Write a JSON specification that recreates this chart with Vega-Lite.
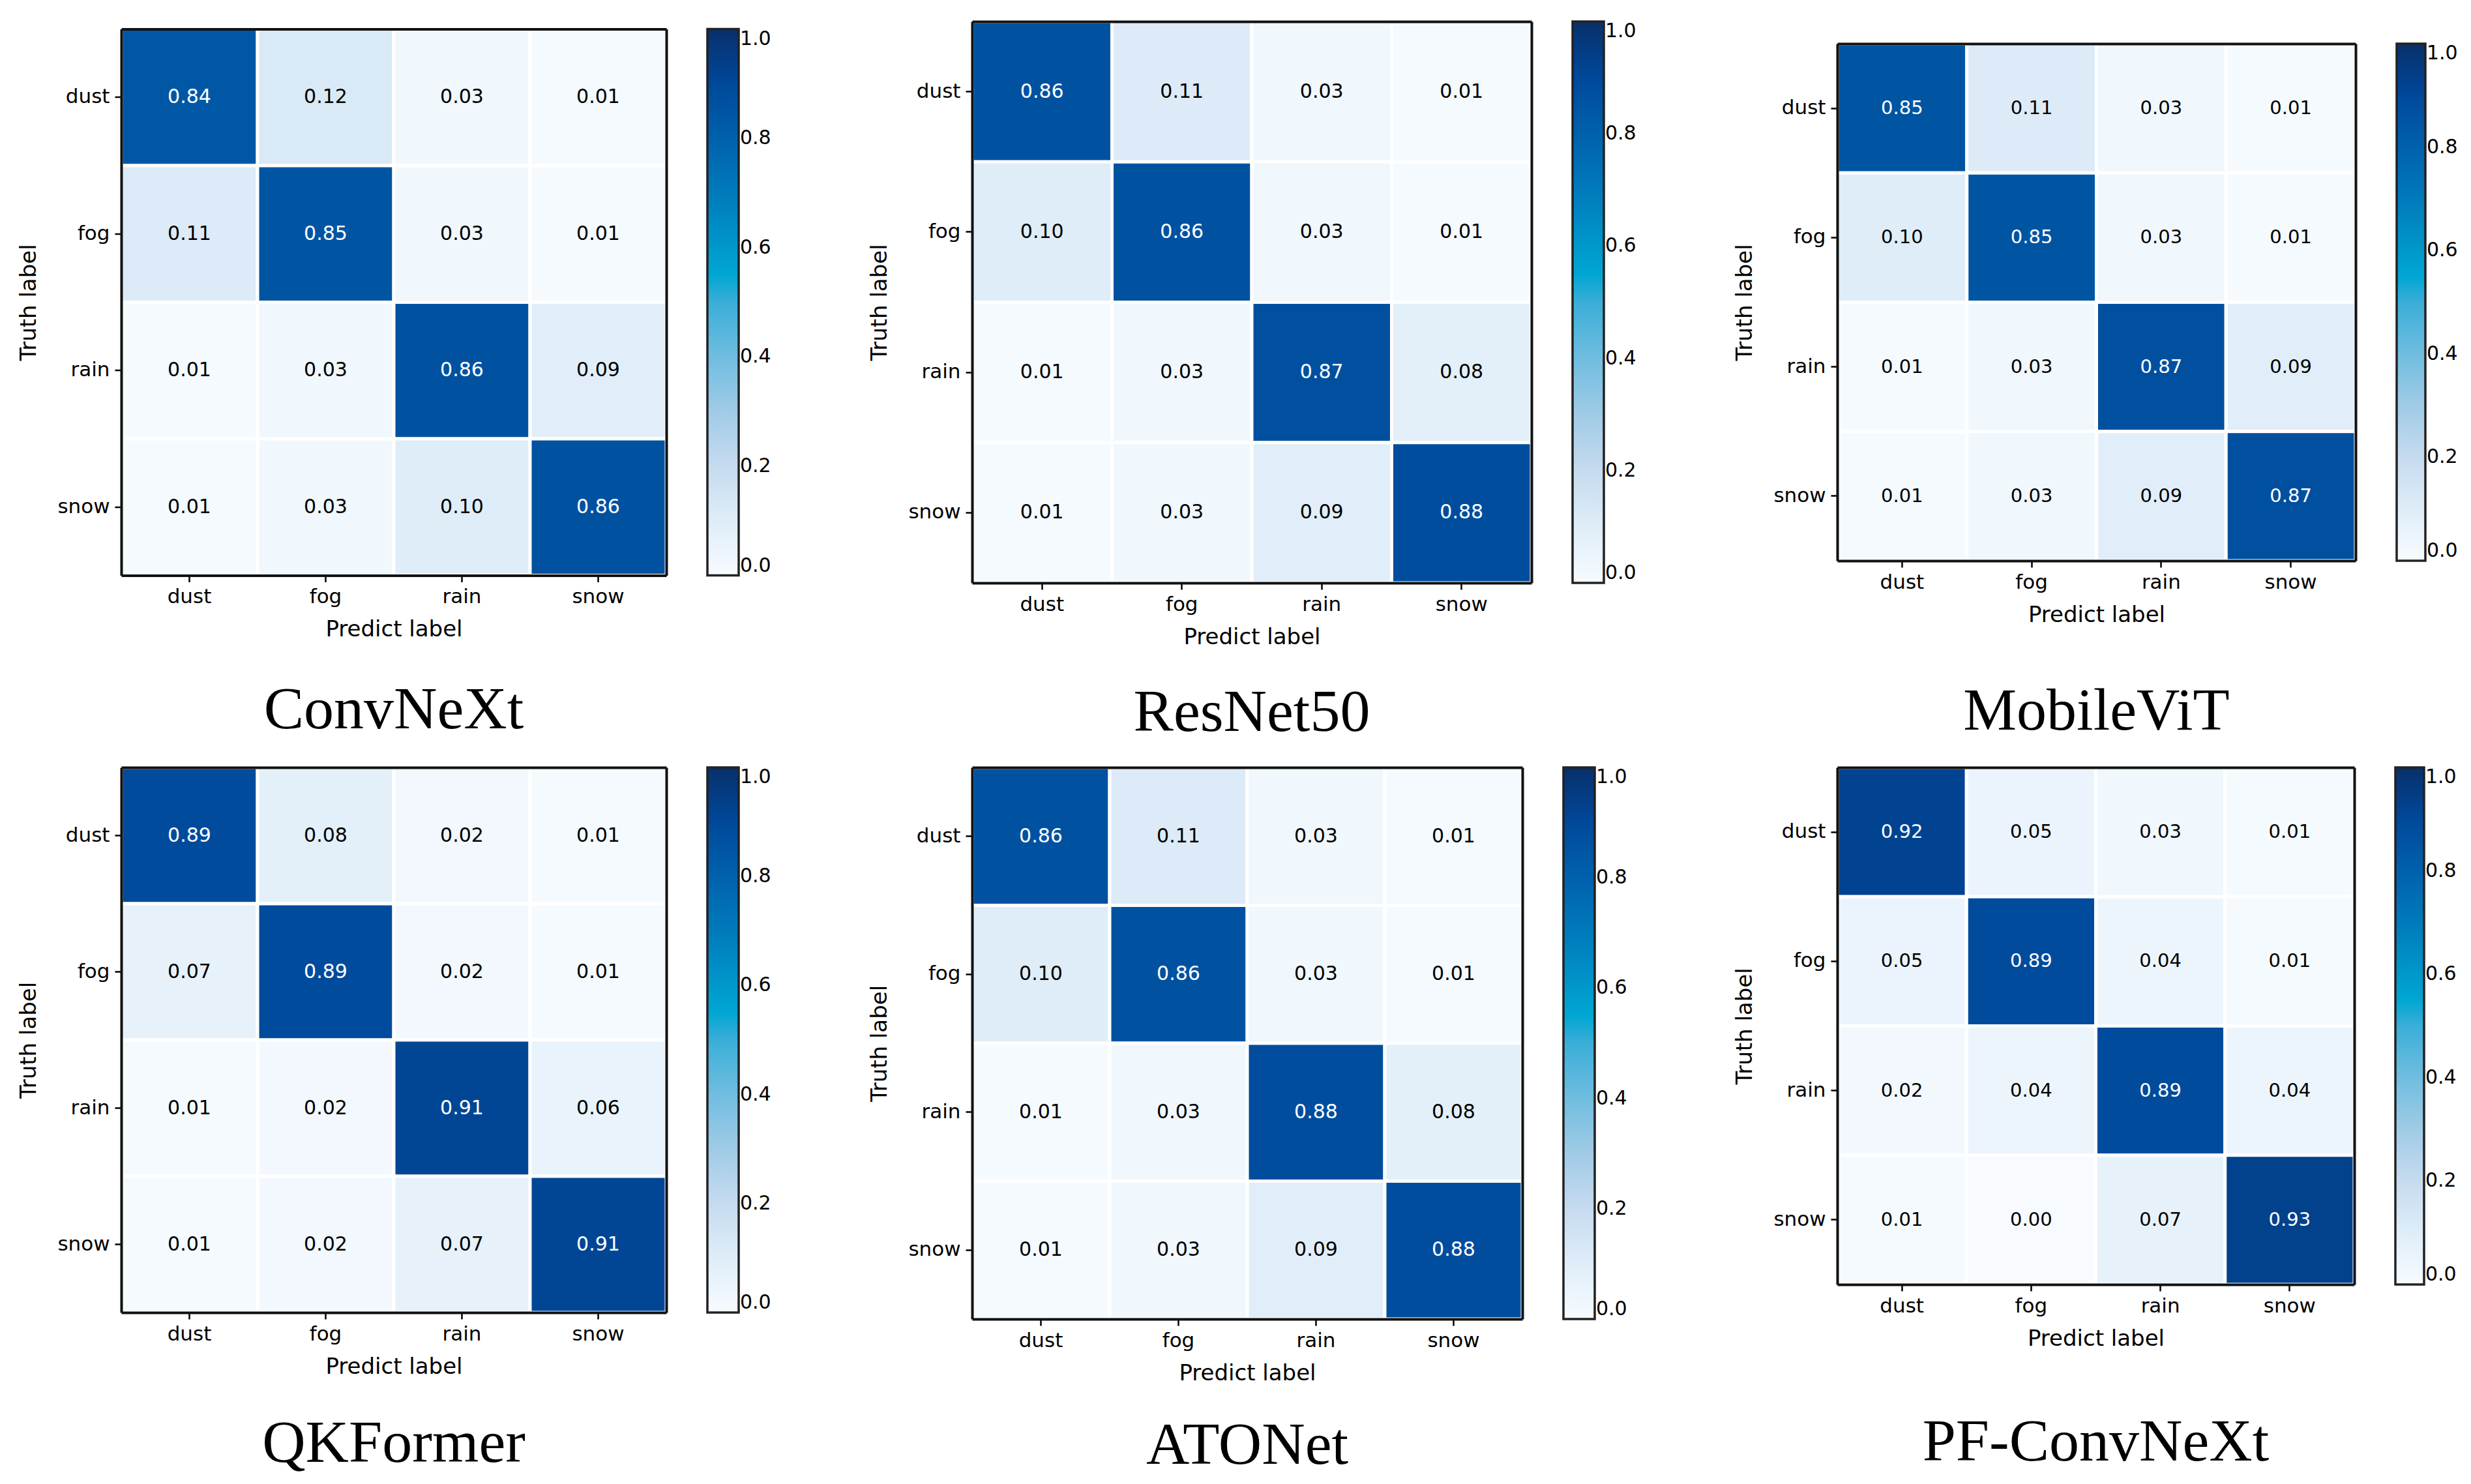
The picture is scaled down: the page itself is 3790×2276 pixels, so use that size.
{
  "$schema": "https://vega.github.io/schema/vega-lite/v6.json",
  "background": "white",
  "padding": {"left": 27, "top": 30, "right": 10, "bottom": 10},
  "data": {"values": [
    {"model":"ConvNeXt","truth":"dust","predict":"dust","value":0.84},
    {"model":"ConvNeXt","truth":"dust","predict":"fog","value":0.12},
    {"model":"ConvNeXt","truth":"dust","predict":"rain","value":0.03},
    {"model":"ConvNeXt","truth":"dust","predict":"snow","value":0.01},
    {"model":"ConvNeXt","truth":"fog","predict":"dust","value":0.11},
    {"model":"ConvNeXt","truth":"fog","predict":"fog","value":0.85},
    {"model":"ConvNeXt","truth":"fog","predict":"rain","value":0.03},
    {"model":"ConvNeXt","truth":"fog","predict":"snow","value":0.01},
    {"model":"ConvNeXt","truth":"rain","predict":"dust","value":0.01},
    {"model":"ConvNeXt","truth":"rain","predict":"fog","value":0.03},
    {"model":"ConvNeXt","truth":"rain","predict":"rain","value":0.86},
    {"model":"ConvNeXt","truth":"rain","predict":"snow","value":0.09},
    {"model":"ConvNeXt","truth":"snow","predict":"dust","value":0.01},
    {"model":"ConvNeXt","truth":"snow","predict":"fog","value":0.03},
    {"model":"ConvNeXt","truth":"snow","predict":"rain","value":0.10},
    {"model":"ConvNeXt","truth":"snow","predict":"snow","value":0.86},
    {"model":"ResNet50","truth":"dust","predict":"dust","value":0.86},
    {"model":"ResNet50","truth":"dust","predict":"fog","value":0.11},
    {"model":"ResNet50","truth":"dust","predict":"rain","value":0.03},
    {"model":"ResNet50","truth":"dust","predict":"snow","value":0.01},
    {"model":"ResNet50","truth":"fog","predict":"dust","value":0.10},
    {"model":"ResNet50","truth":"fog","predict":"fog","value":0.86},
    {"model":"ResNet50","truth":"fog","predict":"rain","value":0.03},
    {"model":"ResNet50","truth":"fog","predict":"snow","value":0.01},
    {"model":"ResNet50","truth":"rain","predict":"dust","value":0.01},
    {"model":"ResNet50","truth":"rain","predict":"fog","value":0.03},
    {"model":"ResNet50","truth":"rain","predict":"rain","value":0.87},
    {"model":"ResNet50","truth":"rain","predict":"snow","value":0.08},
    {"model":"ResNet50","truth":"snow","predict":"dust","value":0.01},
    {"model":"ResNet50","truth":"snow","predict":"fog","value":0.03},
    {"model":"ResNet50","truth":"snow","predict":"rain","value":0.09},
    {"model":"ResNet50","truth":"snow","predict":"snow","value":0.88},
    {"model":"MobileViT","truth":"dust","predict":"dust","value":0.85},
    {"model":"MobileViT","truth":"dust","predict":"fog","value":0.11},
    {"model":"MobileViT","truth":"dust","predict":"rain","value":0.03},
    {"model":"MobileViT","truth":"dust","predict":"snow","value":0.01},
    {"model":"MobileViT","truth":"fog","predict":"dust","value":0.10},
    {"model":"MobileViT","truth":"fog","predict":"fog","value":0.85},
    {"model":"MobileViT","truth":"fog","predict":"rain","value":0.03},
    {"model":"MobileViT","truth":"fog","predict":"snow","value":0.01},
    {"model":"MobileViT","truth":"rain","predict":"dust","value":0.01},
    {"model":"MobileViT","truth":"rain","predict":"fog","value":0.03},
    {"model":"MobileViT","truth":"rain","predict":"rain","value":0.87},
    {"model":"MobileViT","truth":"rain","predict":"snow","value":0.09},
    {"model":"MobileViT","truth":"snow","predict":"dust","value":0.01},
    {"model":"MobileViT","truth":"snow","predict":"fog","value":0.03},
    {"model":"MobileViT","truth":"snow","predict":"rain","value":0.09},
    {"model":"MobileViT","truth":"snow","predict":"snow","value":0.87},
    {"model":"QKFormer","truth":"dust","predict":"dust","value":0.89},
    {"model":"QKFormer","truth":"dust","predict":"fog","value":0.08},
    {"model":"QKFormer","truth":"dust","predict":"rain","value":0.02},
    {"model":"QKFormer","truth":"dust","predict":"snow","value":0.01},
    {"model":"QKFormer","truth":"fog","predict":"dust","value":0.07},
    {"model":"QKFormer","truth":"fog","predict":"fog","value":0.89},
    {"model":"QKFormer","truth":"fog","predict":"rain","value":0.02},
    {"model":"QKFormer","truth":"fog","predict":"snow","value":0.01},
    {"model":"QKFormer","truth":"rain","predict":"dust","value":0.01},
    {"model":"QKFormer","truth":"rain","predict":"fog","value":0.02},
    {"model":"QKFormer","truth":"rain","predict":"rain","value":0.91},
    {"model":"QKFormer","truth":"rain","predict":"snow","value":0.06},
    {"model":"QKFormer","truth":"snow","predict":"dust","value":0.01},
    {"model":"QKFormer","truth":"snow","predict":"fog","value":0.02},
    {"model":"QKFormer","truth":"snow","predict":"rain","value":0.07},
    {"model":"QKFormer","truth":"snow","predict":"snow","value":0.91},
    {"model":"ATONet","truth":"dust","predict":"dust","value":0.86},
    {"model":"ATONet","truth":"dust","predict":"fog","value":0.11},
    {"model":"ATONet","truth":"dust","predict":"rain","value":0.03},
    {"model":"ATONet","truth":"dust","predict":"snow","value":0.01},
    {"model":"ATONet","truth":"fog","predict":"dust","value":0.10},
    {"model":"ATONet","truth":"fog","predict":"fog","value":0.86},
    {"model":"ATONet","truth":"fog","predict":"rain","value":0.03},
    {"model":"ATONet","truth":"fog","predict":"snow","value":0.01},
    {"model":"ATONet","truth":"rain","predict":"dust","value":0.01},
    {"model":"ATONet","truth":"rain","predict":"fog","value":0.03},
    {"model":"ATONet","truth":"rain","predict":"rain","value":0.88},
    {"model":"ATONet","truth":"rain","predict":"snow","value":0.08},
    {"model":"ATONet","truth":"snow","predict":"dust","value":0.01},
    {"model":"ATONet","truth":"snow","predict":"fog","value":0.03},
    {"model":"ATONet","truth":"snow","predict":"rain","value":0.09},
    {"model":"ATONet","truth":"snow","predict":"snow","value":0.88},
    {"model":"PF-ConvNeXt","truth":"dust","predict":"dust","value":0.92},
    {"model":"PF-ConvNeXt","truth":"dust","predict":"fog","value":0.05},
    {"model":"PF-ConvNeXt","truth":"dust","predict":"rain","value":0.03},
    {"model":"PF-ConvNeXt","truth":"dust","predict":"snow","value":0.01},
    {"model":"PF-ConvNeXt","truth":"fog","predict":"dust","value":0.05},
    {"model":"PF-ConvNeXt","truth":"fog","predict":"fog","value":0.89},
    {"model":"PF-ConvNeXt","truth":"fog","predict":"rain","value":0.04},
    {"model":"PF-ConvNeXt","truth":"fog","predict":"snow","value":0.01},
    {"model":"PF-ConvNeXt","truth":"rain","predict":"dust","value":0.02},
    {"model":"PF-ConvNeXt","truth":"rain","predict":"fog","value":0.04},
    {"model":"PF-ConvNeXt","truth":"rain","predict":"rain","value":0.89},
    {"model":"PF-ConvNeXt","truth":"rain","predict":"snow","value":0.04},
    {"model":"PF-ConvNeXt","truth":"snow","predict":"dust","value":0.01},
    {"model":"PF-ConvNeXt","truth":"snow","predict":"fog","value":0.00},
    {"model":"PF-ConvNeXt","truth":"snow","predict":"rain","value":0.07},
    {"model":"PF-ConvNeXt","truth":"snow","predict":"snow","value":0.93}
  ]},
  "columns": 3,
  "align": "each",
  "bounds": "flush",
  "center": true,
  "spacing": {"row": 283, "column": 469},
  "resolve": {"scale": {"color": "independent"}, "legend": {"color": "independent"}},
  "concat": [
    {
      "width": 836, "height": 838,
      "title": {"text": "ConvNeXt", "offset": 61},
      "transform": [{"filter": "datum.model === 'ConvNeXt'"}],
      "encoding": {
        "x": {"field": "predict", "type": "nominal", "sort": ["dust","fog","rain","snow"], "title": "Predict label", "axis": {"zindex": 1}},
        "y": {"field": "truth", "type": "nominal", "sort": ["dust","fog","rain","snow"], "title": "Truth label", "axis": {"zindex": 1}}
      },
      "resolve": {"axis": {"x": "independent", "y": "independent"}},
      "layer": [
        {"mark": {"type": "rect", "stroke": "white", "strokeWidth": 5},
         "encoding": {"color": {"field": "value", "type": "quantitative",
           "scale": {"domain": [0,0.1,0.2,0.3,0.4,0.5,0.55,0.6,0.7,0.8,0.9,1.0], "range": ["#f7fbff","#deedf8","#c6dbef","#a0cbe6","#70bde0","#3aaed8","#00a6d3","#0098cb","#007abb","#0061ac","#00489a","#08306b"], "interpolate": "rgb"},
           "legend": {"gradientLength": 838, "values": [0,0.2,0.4,0.6,0.8,1.0], "format": ".1f"}}}},
        {"mark": {"type": "text", "fontSize": 30},
         "encoding": {
           "x": {"field": "predict", "type": "nominal", "sort": ["dust","fog","rain","snow"], "axis": {"orient": "top", "labels": false, "ticks": false, "title": null, "zindex": 1}},
           "y": {"field": "truth", "type": "nominal", "sort": ["dust","fog","rain","snow"], "axis": {"orient": "right", "labels": false, "ticks": false, "title": null, "zindex": 1}},
           "text": {"field": "value", "type": "quantitative", "format": ".2f"},
           "color": {"condition": {"test": "datum.value > 0.5", "value": "white"}, "value": "black"}}}
      ]
    },
    {
      "width": 858, "height": 861,
      "title": {"text": "ResNet50", "offset": 54},
      "transform": [{"filter": "datum.model === 'ResNet50'"}],
      "encoding": {
        "x": {"field": "predict", "type": "nominal", "sort": ["dust","fog","rain","snow"], "title": "Predict label", "axis": {"zindex": 1}},
        "y": {"field": "truth", "type": "nominal", "sort": ["dust","fog","rain","snow"], "title": "Truth label", "axis": {"zindex": 1}}
      },
      "resolve": {"axis": {"x": "independent", "y": "independent"}},
      "layer": [
        {"mark": {"type": "rect", "stroke": "white", "strokeWidth": 5},
         "encoding": {"color": {"field": "value", "type": "quantitative",
           "scale": {"domain": [0,0.1,0.2,0.3,0.4,0.5,0.55,0.6,0.7,0.8,0.9,1.0], "range": ["#f7fbff","#deedf8","#c6dbef","#a0cbe6","#70bde0","#3aaed8","#00a6d3","#0098cb","#007abb","#0061ac","#00489a","#08306b"], "interpolate": "rgb"},
           "legend": {"gradientLength": 861, "values": [0,0.2,0.4,0.6,0.8,1.0], "format": ".1f"}}}},
        {"mark": {"type": "text", "fontSize": 30},
         "encoding": {
           "x": {"field": "predict", "type": "nominal", "sort": ["dust","fog","rain","snow"], "axis": {"orient": "top", "labels": false, "ticks": false, "title": null, "zindex": 1}},
           "y": {"field": "truth", "type": "nominal", "sort": ["dust","fog","rain","snow"], "axis": {"orient": "right", "labels": false, "ticks": false, "title": null, "zindex": 1}},
           "text": {"field": "value", "type": "quantitative", "format": ".2f"},
           "color": {"condition": {"test": "datum.value > 0.5", "value": "white"}, "value": "black"}}}
      ]
    },
    {
      "width": 795, "height": 793,
      "title": {"text": "MobileViT", "offset": 86},
      "transform": [{"filter": "datum.model === 'MobileViT'"}],
      "encoding": {
        "x": {"field": "predict", "type": "nominal", "sort": ["dust","fog","rain","snow"], "title": "Predict label", "axis": {"zindex": 1}},
        "y": {"field": "truth", "type": "nominal", "sort": ["dust","fog","rain","snow"], "title": "Truth label", "axis": {"zindex": 1}}
      },
      "resolve": {"axis": {"x": "independent", "y": "independent"}},
      "layer": [
        {"mark": {"type": "rect", "stroke": "white", "strokeWidth": 5},
         "encoding": {"color": {"field": "value", "type": "quantitative",
           "scale": {"domain": [0,0.1,0.2,0.3,0.4,0.5,0.55,0.6,0.7,0.8,0.9,1.0], "range": ["#f7fbff","#deedf8","#c6dbef","#a0cbe6","#70bde0","#3aaed8","#00a6d3","#0098cb","#007abb","#0061ac","#00489a","#08306b"], "interpolate": "rgb"},
           "legend": {"gradientLength": 793, "gradientThickness": 44, "values": [0,0.2,0.4,0.6,0.8,1.0], "format": ".1f"}}}},
        {"mark": {"type": "text", "fontSize": 29},
         "encoding": {
           "x": {"field": "predict", "type": "nominal", "sort": ["dust","fog","rain","snow"], "axis": {"orient": "top", "labels": false, "ticks": false, "title": null, "zindex": 1}},
           "y": {"field": "truth", "type": "nominal", "sort": ["dust","fog","rain","snow"], "axis": {"orient": "right", "labels": false, "ticks": false, "title": null, "zindex": 1}},
           "text": {"field": "value", "type": "quantitative", "format": ".2f"},
           "color": {"condition": {"test": "datum.value > 0.5", "value": "white"}, "value": "black"}}}
      ]
    },
    {
      "width": 836, "height": 836,
      "title": {"text": "QKFormer", "offset": 56},
      "transform": [{"filter": "datum.model === 'QKFormer'"}],
      "encoding": {
        "x": {"field": "predict", "type": "nominal", "sort": ["dust","fog","rain","snow"], "title": "Predict label", "axis": {"zindex": 1}},
        "y": {"field": "truth", "type": "nominal", "sort": ["dust","fog","rain","snow"], "title": "Truth label", "axis": {"zindex": 1}}
      },
      "resolve": {"axis": {"x": "independent", "y": "independent"}},
      "layer": [
        {"mark": {"type": "rect", "stroke": "white", "strokeWidth": 5},
         "encoding": {"color": {"field": "value", "type": "quantitative",
           "scale": {"domain": [0,0.1,0.2,0.3,0.4,0.5,0.55,0.6,0.7,0.8,0.9,1.0], "range": ["#f7fbff","#deedf8","#c6dbef","#a0cbe6","#70bde0","#3aaed8","#00a6d3","#0098cb","#007abb","#0061ac","#00489a","#08306b"], "interpolate": "rgb"},
           "legend": {"gradientLength": 836, "values": [0,0.2,0.4,0.6,0.8,1.0], "format": ".1f"}}}},
        {"mark": {"type": "text", "fontSize": 30},
         "encoding": {
           "x": {"field": "predict", "type": "nominal", "sort": ["dust","fog","rain","snow"], "axis": {"orient": "top", "labels": false, "ticks": false, "title": null, "zindex": 1}},
           "y": {"field": "truth", "type": "nominal", "sort": ["dust","fog","rain","snow"], "axis": {"orient": "right", "labels": false, "ticks": false, "title": null, "zindex": 1}},
           "text": {"field": "value", "type": "quantitative", "format": ".2f"},
           "color": {"condition": {"test": "datum.value > 0.5", "value": "white"}, "value": "black"}}}
      ]
    },
    {
      "width": 844, "height": 846,
      "title": {"text": "ATONet", "offset": 49},
      "transform": [{"filter": "datum.model === 'ATONet'"}],
      "encoding": {
        "x": {"field": "predict", "type": "nominal", "sort": ["dust","fog","rain","snow"], "title": "Predict label", "axis": {"zindex": 1}},
        "y": {"field": "truth", "type": "nominal", "sort": ["dust","fog","rain","snow"], "title": "Truth label", "axis": {"zindex": 1}}
      },
      "resolve": {"axis": {"x": "independent", "y": "independent"}},
      "layer": [
        {"mark": {"type": "rect", "stroke": "white", "strokeWidth": 5},
         "encoding": {"color": {"field": "value", "type": "quantitative",
           "scale": {"domain": [0,0.1,0.2,0.3,0.4,0.5,0.55,0.6,0.7,0.8,0.9,1.0], "range": ["#f7fbff","#deedf8","#c6dbef","#a0cbe6","#70bde0","#3aaed8","#00a6d3","#0098cb","#007abb","#0061ac","#00489a","#08306b"], "interpolate": "rgb"},
           "legend": {"gradientLength": 846, "values": [0,0.2,0.4,0.6,0.8,1.0], "format": ".1f"}}}},
        {"mark": {"type": "text", "fontSize": 30},
         "encoding": {
           "x": {"field": "predict", "type": "nominal", "sort": ["dust","fog","rain","snow"], "axis": {"orient": "top", "labels": false, "ticks": false, "title": null, "zindex": 1}},
           "y": {"field": "truth", "type": "nominal", "sort": ["dust","fog","rain","snow"], "axis": {"orient": "right", "labels": false, "ticks": false, "title": null, "zindex": 1}},
           "text": {"field": "value", "type": "quantitative", "format": ".2f"},
           "color": {"condition": {"test": "datum.value > 0.5", "value": "white"}, "value": "black"}}}
      ]
    },
    {
      "width": 793, "height": 793,
      "title": {"text": "PF-ConvNeXt", "offset": 97},
      "transform": [{"filter": "datum.model === 'PF-ConvNeXt'"}],
      "encoding": {
        "x": {"field": "predict", "type": "nominal", "sort": ["dust","fog","rain","snow"], "title": "Predict label", "axis": {"zindex": 1}},
        "y": {"field": "truth", "type": "nominal", "sort": ["dust","fog","rain","snow"], "title": "Truth label", "axis": {"zindex": 1}}
      },
      "resolve": {"axis": {"x": "independent", "y": "independent"}},
      "layer": [
        {"mark": {"type": "rect", "stroke": "white", "strokeWidth": 5},
         "encoding": {"color": {"field": "value", "type": "quantitative",
           "scale": {"domain": [0,0.1,0.2,0.3,0.4,0.5,0.55,0.6,0.7,0.8,0.9,1.0], "range": ["#f7fbff","#deedf8","#c6dbef","#a0cbe6","#70bde0","#3aaed8","#00a6d3","#0098cb","#007abb","#0061ac","#00489a","#08306b"], "interpolate": "rgb"},
           "legend": {"gradientLength": 793, "gradientThickness": 44, "values": [0,0.2,0.4,0.6,0.8,1.0], "format": ".1f"}}}},
        {"mark": {"type": "text", "fontSize": 29},
         "encoding": {
           "x": {"field": "predict", "type": "nominal", "sort": ["dust","fog","rain","snow"], "axis": {"orient": "top", "labels": false, "ticks": false, "title": null, "zindex": 1}},
           "y": {"field": "truth", "type": "nominal", "sort": ["dust","fog","rain","snow"], "axis": {"orient": "right", "labels": false, "ticks": false, "title": null, "zindex": 1}},
           "text": {"field": "value", "type": "quantitative", "format": ".2f"},
           "color": {"condition": {"test": "datum.value > 0.5", "value": "white"}, "value": "black"}}}
      ]
    }
  ],
  "config": {
    "font": "DejaVu Sans",
    "view": {"stroke": null},
    "text": {"font": "DejaVu Sans"},
    "axis": {"labelFont": "DejaVu Sans", "labelFontSize": 31, "labelColor": "#000", "titleFont": "DejaVu Sans", "titleFontSize": 34, "titleFontWeight": "normal", "titleColor": "#000", "tickColor": "#000", "tickSize": 10, "tickWidth": 2.5, "domain": true, "domainColor": "#111", "domainWidth": 4, "grid": false, "labelPadding": 8},
    "axisX": {"labelAngle": 0, "titlePadding": 18},
    "axisY": {"titlePadding": 26},
    "legend": {"orient": "right", "direction": "vertical", "title": null, "gradientThickness": 48, "gradientStrokeColor": "#222", "gradientStrokeWidth": 3.5, "labelFont": "DejaVu Sans", "labelFontSize": 30, "labelColor": "#000", "labelOffset": 16, "offset": 63, "labelOverlap": false, "labelBaseline": "middle", "padding": 0},
    "title": {"orient": "bottom", "font": "Liberation Serif", "fontSize": 92, "fontWeight": "normal", "color": "#000", "anchor": "middle", "frame": "group"}
  }
}
